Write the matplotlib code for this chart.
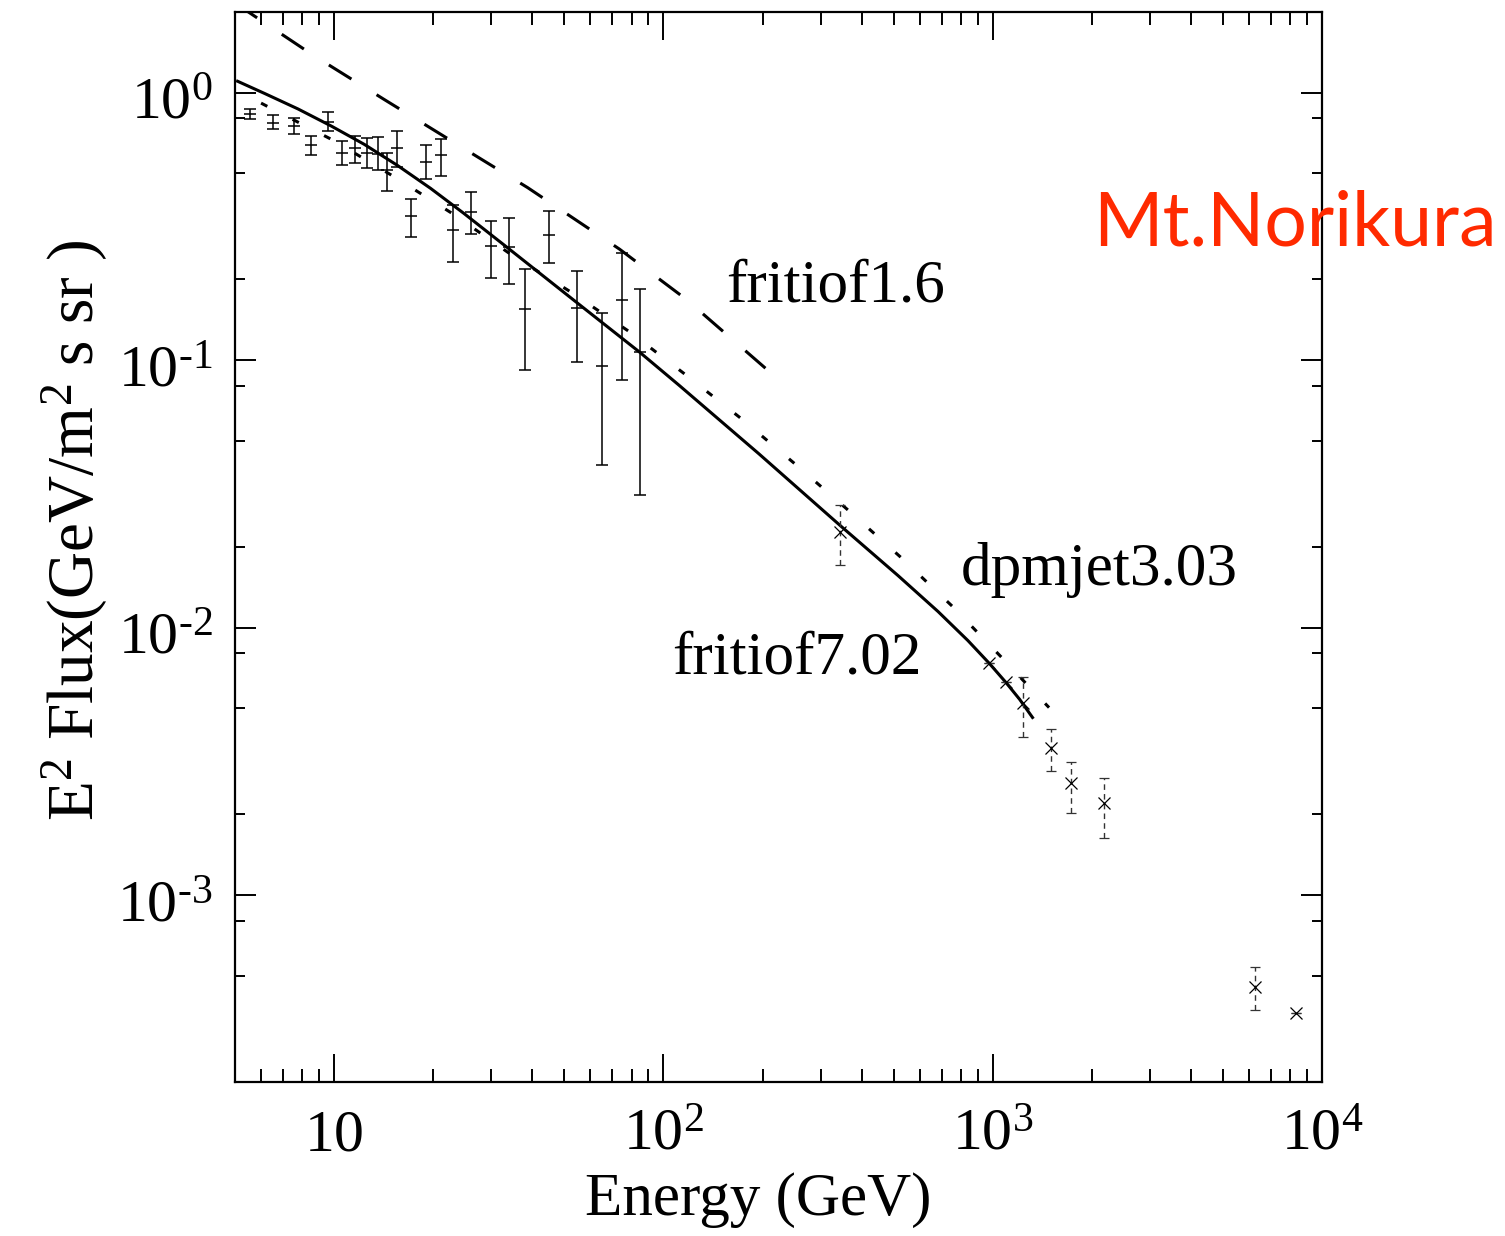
import numpy as np
import matplotlib
matplotlib.use("Agg")
import matplotlib.pyplot as plt
import matplotlib.transforms as mtransforms
from matplotlib.ticker import FixedLocator, LogLocator, NullFormatter, FuncFormatter

# ---------------- data ----------------
# low-energy measurements (solid error bars, '+' style)
low_E = [5.57, 6.53, 7.54, 8.52, 9.57, 10.57, 11.57, 12.57, 13.55, 14.52, 15.57,
         17.1, 19.05, 21.04, 23.0, 26.0, 29.9, 34.0, 37.9, 44.9, 54.6, 64.9, 74.6, 84.6]
low_F = [0.828, 0.770, 0.749, 0.636, 0.777, 0.596, 0.618, 0.596, 0.590, 0.512, 0.618,
         0.344, 0.551, 0.582, 0.306, 0.359, 0.267, 0.265, 0.155, 0.294, 0.157, 0.0947, 0.168, 0.1074]
low_hi = [0.871, 0.821, 0.802, 0.687, 0.847, 0.660, 0.687, 0.678, 0.683, 0.592, 0.717,
          0.401, 0.636, 0.668, 0.379, 0.425, 0.331, 0.339, 0.219, 0.361, 0.216, 0.150, 0.252, 0.184]
low_lo = [0.793, 0.728, 0.697, 0.584, 0.715, 0.535, 0.547, 0.524, 0.513, 0.428, 0.526,
          0.289, 0.474, 0.488, 0.232, 0.295, 0.203, 0.192, 0.092, 0.230, 0.098, 0.0406, 0.0844, 0.0314]

# high-energy measurements ('x' markers, dashed error bars)
high_E = [344, 977, 1097, 1232, 1500, 1733, 2176, 6281, 8337]
high_F = [0.02275, 0.00734, 0.00627, 0.00520, 0.003536, 0.00262, 0.00220, 4.53e-4, 3.63e-4]
high_hi = [0.0286, 0.00734, 0.00627, 0.00655, 0.00418, 0.00313, 0.00273, 5.37e-4, 3.63e-4]
high_lo = [0.0171, 0.00734, 0.00627, 0.00391, 0.00290, 0.00202, 0.00164, 3.73e-4, 3.63e-4]

# model curves
fritiof702_E = [5.09, 6.16, 7.77, 9.79, 12.35, 15.57, 19.63, 24.76, 33.48, 54.6, 84.6, 111.8,
                195, 345, 516, 682.1, 840.6, 977, 1097, 1207, 1321]
fritiof702_F = [1.102, 0.991, 0.868, 0.750, 0.640, 0.534, 0.4383, 0.3535, 0.2640, 0.1639, 0.1071,
                0.0803, 0.0446, 0.0240, 0.01563, 0.01148, 0.00894, 0.00734, 0.00623, 0.00539, 0.00461]

dpmjet_E = [6.0, 6.31, 9.91, 15.2, 23.1, 34.7, 52.6, 78.9, 117.1, 172.9, 252.7, 364.7,
            528.6, 757, 1072, 1276, 1483]
dpmjet_F = [0.913, 0.884, 0.664, 0.4846, 0.350, 0.2464, 0.1789, 0.1275, 0.0879, 0.0602, 0.0406,
            0.0274, 0.0182, 0.01195, 0.00766, 0.00609, 0.00502]

fritiof16_E = [5.0, 5.36, 8.58, 14.19, 23.2, 38.7, 73.6, 117, 210]
fritiof16_F = [2.16, 2.04, 1.386, 0.942, 0.649, 0.441, 0.2596, 0.169, 0.0904]

x_major = [10, 100, 1000, 10000]
x_labels = ["$10$", "$10^2$", "$10^3$", "$10^4$"]
y_major = [1e-3, 1e-2, 1e-1, 1e0]
y_labels = [r"$10^{\text{-}3}$", r"$10^{\text{-}2}$", r"$10^{\text{-}1}$", "$10^{0}$"]

# ---------------- style ----------------
plt.rcParams['font.family'] = ['Liberation Serif', 'DejaVu Serif']
plt.rcParams['mathtext.fontset'] = 'custom'
plt.rcParams['mathtext.rm'] = 'Liberation Serif'
plt.rcParams['mathtext.it'] = 'Liberation Serif:italic'
plt.rcParams['mathtext.default'] = 'regular'

fig = plt.figure(figsize=(15.05, 12.36), dpi=100)
ax = fig.add_axes([235 / 1505, 1 - 1082 / 1236, (1322 - 235) / 1505, (1082 - 12) / 1236])
ax.set_xscale('log')
ax.set_yscale('log')
ax.set_xlim(5, 1e4)
ax.set_ylim(2e-4, 2)

lw = 2.2
ax.plot(fritiof16_E, fritiof16_F, color='black', lw=lw, dashes=(8.7, 9.7), solid_capstyle='butt')
ax.plot(dpmjet_E, dpmjet_F, color='black', lw=lw, dashes=(2.3, 9.3))
ax.plot(fritiof702_E, fritiof702_F, color='black', lw=lw)

low_F_a = np.array(low_F)
eb = ax.errorbar(low_E, low_F, yerr=[low_F_a - np.array(low_lo), np.array(low_hi) - low_F_a],
                 fmt='_', color='black', ms=9, mew=1.1, elinewidth=1.1, capsize=4.5, capthick=1.1)

high_F_a = np.array(high_F)
eb2 = ax.errorbar(high_E, high_F, yerr=[high_F_a - np.array(high_lo), np.array(high_hi) - high_F_a],
                  fmt='x', color='black', ms=9, mew=0.9, ecolor='#333333', elinewidth=1.0,
                  capsize=3.5, capthick=1.0)
for lc in eb2[2]:
    lc.set_linestyle((0, (4, 3)))

# ticks
ax.xaxis.set_major_locator(FixedLocator(x_major))
ax.xaxis.set_major_formatter(FuncFormatter(lambda v, p: x_labels[x_major.index(v)] if v in x_major else ""))
ax.xaxis.set_minor_locator(LogLocator(base=10, subs=np.arange(2, 10)))
ax.xaxis.set_minor_formatter(NullFormatter())
ax.yaxis.set_major_locator(FixedLocator(y_major))
ax.yaxis.set_major_formatter(FuncFormatter(lambda v, p: y_labels[y_major.index(v)] if v in y_major else ""))
ax.yaxis.set_minor_locator(LogLocator(base=10, subs=[2, 5, 8]))
ax.yaxis.set_minor_formatter(NullFormatter())

ax.tick_params(axis='both', which='both', direction='in', top=True, right=True,
               width=1.4, labelsize=43)
ax.tick_params(axis='x', which='major', length=20, pad=49)
ax.tick_params(axis='x', which='minor', length=9.5)
ax.tick_params(axis='y', which='major', length=15, pad=16)
ax.tick_params(axis='y', which='minor', length=7.5)
for t in ax.xaxis.get_major_ticks():
    t.label1.set_verticalalignment('baseline')
yoff = mtransforms.ScaledTranslation(0, -6 / 100, fig.dpi_scale_trans)
for t in ax.yaxis.get_major_ticks():
    t.label1.set_transform(t.label1.get_transform() + yoff)
for s in ax.spines.values():
    s.set_linewidth(1.6)

# labels
fig.text(758 / 1505, 1 - 1215 / 1236, "Energy (GeV)", ha='center', va='baseline', fontsize=44)
fig.text(75 / 1505, 1 - 530 / 1236, "E$^2$ Flux(GeV/m$^2$ s sr )", ha='center', va='center',
         rotation=90, fontsize=47)

ax.text(154.9, 0.1650, "fritiof1.6", fontsize=44, ha='left', va='baseline')
ax.text(800, 0.01447, "dpmjet3.03", fontsize=44, ha='left', va='baseline')
ax.text(106.4, 0.00674, "fritiof7.02", fontsize=44, ha='left', va='baseline')

fig.text(1093 / 1505, 1 - 246 / 1236, "Mt.Norikura", color='#ff2a00', fontsize=54,
         family=['Lato', 'DejaVu Sans'], ha='left', va='baseline')

fig.savefig("out.png", dpi=100)
